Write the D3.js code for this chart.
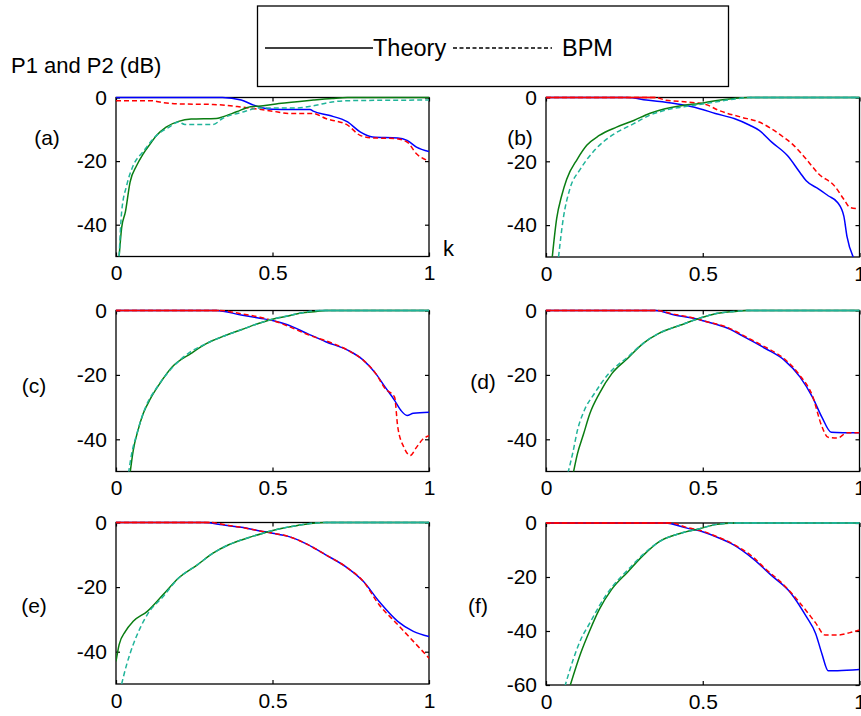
<!DOCTYPE html>
<html>
<head>
<meta charset="utf-8">
<title>P1 and P2 vs k</title>
<style>
  html, body { margin: 0; padding: 0; background: #fff; }
  svg { display: block; }
  text { font-family: "Liberation Sans", Arial, sans-serif; fill: #000; }
</style>
</head>
<body>
<svg width="861" height="716"></svg>
<script src="https://d3js.org/d3.v7.min.js"></script>
<script>
// tick labels
var xTicks = [0, 0.5, 1];
var yTicks50 = [0, -20, -40];
var yTicks60 = [0, -20, -40, -60];
var panelNames = ['(a)', '(b)', '(c)', '(d)', '(e)', '(f)'];

// series: [k, dB]   P1 theory (blue), P1 BPM (red), P2 theory (green), P2 BPM (teal)
var aP1Theory = [[0,0],[0.34,0],[0.40,-0.8],[0.44,-2.4],[0.50,-3.7],[0.56,-3.8],[0.62,-3.8],[0.63,-4.3],[0.68,-5.6],[0.74,-7.7],[0.78,-10.8],[0.82,-12.4],[0.90,-12.7],[0.93,-13.5],[0.96,-15.6],[1,-17]];
var aP1Bpm = [[0,-1],[0.11,-1],[0.15,-1.6],[0.2,-2],[0.31,-2.2],[0.40,-3],[0.50,-4.3],[0.55,-5],[0.63,-5],[0.67,-6.6],[0.74,-8.7],[0.78,-11.9],[0.82,-12.7],[0.89,-12.9],[0.93,-14],[0.96,-17.7],[1,-20]];
var aP2Theory = [[0.01,-50],[0.018,-41],[0.03,-36],[0.045,-26.6],[0.066,-21.4],[0.087,-17.7],[0.11,-14.5],[0.13,-11.9],[0.16,-9.3],[0.2,-7.5],[0.24,-6.8],[0.32,-6.6],[0.34,-6.1],[0.385,-4.5],[0.43,-2.9],[0.47,-2.6],[0.52,-1.9],[0.63,-0.8],[0.69,-0.3],[0.74,0],[1,0]];
var aP2Bpm = [[0.01,-50],[0.018,-36],[0.034,-27.7],[0.055,-21.4],[0.087,-17],[0.13,-11.9],[0.17,-9.3],[0.2,-7.7],[0.22,-8.5],[0.31,-8.5],[0.34,-6.6],[0.40,-4.7],[0.46,-3.3],[0.57,-3.3],[0.63,-2.6],[0.69,-1.4],[0.74,-1],[1,-0.8]];

var bP1Theory = [[0,0],[0.26,0],[0.32,-0.8],[0.41,-1.9],[0.49,-3.5],[0.54,-5],[0.6,-6.6],[0.65,-8.7],[0.68,-10.3],[0.72,-14],[0.77,-18.2],[0.81,-23.5],[0.83,-26.1],[0.87,-28.7],[0.9,-30.8],[0.93,-32.9],[0.95,-37.2],[0.96,-43.5],[0.98,-50]];
var bP1Bpm = [[0,0],[0.35,0],[0.38,-0.8],[0.45,-1.4],[0.51,-2.2],[0.55,-4],[0.62,-6.1],[0.68,-7.7],[0.75,-11.9],[0.79,-15],[0.83,-19.3],[0.87,-24],[0.92,-27.7],[0.95,-31.9],[0.97,-34.5],[0.99,-34.8]];
var bP2Theory = [[0.02,-50],[0.034,-38],[0.05,-30.8],[0.066,-25.6],[0.1,-19.3],[0.13,-15],[0.17,-11.9],[0.225,-9.3],[0.28,-7.2],[0.33,-5],[0.38,-3.5],[0.44,-2.4],[0.49,-1.9],[0.54,-1],[0.6,-0.3],[0.65,0],[1,0]];
var bP2Bpm = [[0.04,-50],[0.055,-38],[0.076,-28.7],[0.11,-22.4],[0.16,-16],[0.21,-11.9],[0.28,-8.2],[0.33,-5.6],[0.38,-4],[0.44,-2.9],[0.51,-1.9],[0.58,-0.8],[0.65,0],[1,0]];

var cP1Theory = [[0,0],[0.32,0],[0.4,-1.4],[0.46,-2.4],[0.5,-3.1],[0.55,-4.5],[0.61,-7.1],[0.67,-9.7],[0.74,-12.3],[0.79,-15.4],[0.83,-19.6],[0.86,-23.8],[0.89,-27.9],[0.91,-31],[0.93,-32.6],[0.95,-31.9],[1,-31.6]];
var cP1Bpm = [[0,0],[0.33,0],[0.4,-1],[0.46,-2.1],[0.5,-3.1],[0.63,-8.1],[0.67,-9.4],[0.74,-12.3],[0.79,-15.4],[0.83,-19.6],[0.86,-24.3],[0.89,-26.9],[0.9,-36],[0.92,-42.5],[0.94,-45],[0.96,-42.5],[0.98,-40],[1,-38.9]];
var cP2Theory = [[0.045,-50.5],[0.055,-43.5],[0.07,-37.3],[0.087,-32],[0.11,-27.4],[0.14,-22.7],[0.18,-17.5],[0.24,-13.3],[0.29,-10.2],[0.34,-8.1],[0.4,-6],[0.45,-4.2],[0.5,-2.7],[0.55,-1.7],[0.59,-0.8],[0.64,-0.3],[0.67,0],[1,0]];
var cP2Bpm = [[0.04,-50.5],[0.05,-44.5],[0.066,-38.5],[0.082,-33.3],[0.098,-29.2],[0.13,-24],[0.17,-18.8],[0.22,-14.1],[0.29,-10.2],[0.34,-8.1],[0.4,-6],[0.45,-4.2],[0.5,-2.7],[0.55,-1.6],[0.6,-0.6],[0.65,0],[1,0]];

var dP1Theory = [[0,0],[0.35,0],[0.41,-1.4],[0.47,-2.4],[0.51,-3.4],[0.58,-5.5],[0.64,-8.6],[0.7,-11.8],[0.76,-15.4],[0.81,-20.6],[0.85,-26.9],[0.88,-33.1],[0.91,-37.8],[1,-38]];
var dP1Bpm = [[0,0],[0.35,0],[0.41,-1.2],[0.47,-2.3],[0.51,-3.4],[0.58,-5.3],[0.64,-8.3],[0.7,-11.4],[0.76,-15],[0.81,-20.2],[0.85,-26.5],[0.88,-36],[0.9,-39.4],[0.93,-39.6],[0.96,-38],[1,-38]];
var dP2Theory = [[0.087,-50.5],[0.1,-44.6],[0.12,-38.3],[0.14,-32],[0.17,-25.8],[0.21,-19.6],[0.26,-14.9],[0.31,-10.2],[0.36,-7.1],[0.43,-4.5],[0.49,-2.4],[0.54,-1],[0.6,-0.3],[0.64,0],[1,0]];
var dP2Bpm = [[0.07,-50.5],[0.087,-43.5],[0.1,-37.3],[0.12,-31.5],[0.155,-25.7],[0.2,-19.6],[0.26,-14.5],[0.31,-10.2],[0.36,-7.1],[0.43,-4.5],[0.49,-2.4],[0.54,-1],[0.6,-0.3],[0.64,0],[1,0]];

var eP1Theory = [[0,0],[0.28,0],[0.34,-0.7],[0.4,-1.5],[0.46,-2.6],[0.5,-3.3],[0.55,-4.3],[0.61,-6.7],[0.67,-10],[0.74,-14.1],[0.79,-18.2],[0.84,-24.4],[0.9,-30.6],[0.95,-33.7],[1,-35.3]];
var eP1Bpm = [[0,0],[0.3,0],[0.36,-0.9],[0.4,-1.5],[0.46,-2.6],[0.5,-3.3],[0.55,-4.3],[0.61,-6.7],[0.67,-10],[0.74,-14.1],[0.79,-18.2],[0.84,-25.4],[0.9,-31.6],[0.95,-36.8],[0.98,-39.9],[1,-42]];
var eP2Theory = [[0,-43],[0.01,-37.8],[0.03,-33.7],[0.055,-30.6],[0.1,-27.5],[0.15,-22.4],[0.2,-17.2],[0.26,-13.1],[0.31,-9.5],[0.36,-6.9],[0.42,-4.8],[0.47,-3.3],[0.52,-2],[0.58,-0.9],[0.63,-0.2],[0.67,0],[1,0]];
var eP2Bpm = [[0.018,-50],[0.034,-44],[0.055,-37.8],[0.077,-32.7],[0.1,-28.5],[0.15,-23],[0.2,-17.2],[0.26,-13.1],[0.31,-9.5],[0.36,-6.9],[0.42,-4.8],[0.47,-3.3],[0.52,-2],[0.58,-0.9],[0.63,-0.2],[0.67,0],[1,0]];

var fP1Theory = [[0,0],[0.38,0],[0.45,-1.9],[0.49,-2.9],[0.54,-5],[0.6,-8.2],[0.66,-13.2],[0.72,-19.5],[0.78,-25.8],[0.83,-34.6],[0.86,-40.9],[0.88,-48.4],[0.9,-54.7],[0.93,-54.7],[1,-54.3]];
var fP1Bpm = [[0,0],[0.4,0],[0.45,-1.7],[0.49,-2.7],[0.54,-4.8],[0.6,-8],[0.66,-12.6],[0.7,-17],[0.75,-22],[0.81,-29.6],[0.86,-37],[0.89,-41.5],[0.93,-41.5],[0.97,-40.6],[1,-39.6]];
var fP2Theory = [[0.076,-60.6],[0.11,-48.4],[0.14,-39.7],[0.17,-32],[0.21,-24.5],[0.26,-18.2],[0.31,-12],[0.36,-7],[0.43,-3.8],[0.49,-2.1],[0.54,-0.6],[0.6,0],[1,0]];
var fP2Bpm = [[0.06,-60.6],[0.087,-50.5],[0.11,-43.4],[0.14,-37],[0.17,-30.7],[0.21,-23.8],[0.26,-17.5],[0.31,-11.6],[0.36,-7],[0.43,-3.8],[0.49,-2.1],[0.54,-0.6],[0.6,0],[1,0]];

var colors = { p1Theory: '#0000ff', p1Bpm: '#ff0000', p2Theory: '#0a7d12', p2Bpm: '#20b49a' };

// layout of the six axes
var panels = [
  { name: panelNames[0], left: 116, top: 97.5, right: 429, bottom: 256.5, ymin: -50, yticks: yTicks50, lx: 47, ly: 138, series: [aP1Theory, aP1Bpm, aP2Theory, aP2Bpm] },
  { name: panelNames[1], left: 546, top: 97.5, right: 859.5, bottom: 257, ymin: -50, yticks: yTicks50, lx: 520, ly: 138, series: [bP1Theory, bP1Bpm, bP2Theory, bP2Bpm] },
  { name: panelNames[2], left: 116, top: 310.5, right: 429, bottom: 471.5, ymin: -50, yticks: yTicks50, lx: 34, ly: 386, series: [cP1Theory, cP1Bpm, cP2Theory, cP2Bpm] },
  { name: panelNames[3], left: 546, top: 310.5, right: 859.5, bottom: 471.5, ymin: -50, yticks: yTicks50, lx: 483, ly: 382, series: [dP1Theory, dP1Bpm, dP2Theory, dP2Bpm] },
  { name: panelNames[4], left: 116, top: 522.5, right: 429, bottom: 684, ymin: -50, yticks: yTicks50, lx: 34, ly: 606, series: [eP1Theory, eP1Bpm, eP2Theory, eP2Bpm] },
  { name: panelNames[5], left: 546, top: 523, right: 859.5, bottom: 685, ymin: -60, yticks: yTicks60, lx: 478, ly: 606, series: [fP1Theory, fP1Bpm, fP2Theory, fP2Bpm] }
];

var svg = d3.select('svg');
var styles = [
  { color: colors.p1Theory, dash: null },
  { color: colors.p1Bpm, dash: '5,3' },
  { color: colors.p2Theory, dash: null },
  { color: colors.p2Bpm, dash: '5,3' }
];

panels.forEach(function(p, pi) {
  var w = p.right - p.left, h = p.bottom - p.top;
  var x = d3.scaleLinear().domain([0, 1]).range([0, w]);
  var y = d3.scaleLinear().domain([p.ymin, 0]).range([h, 0]);
  var g = svg.append('g').attr('transform', 'translate(' + p.left + ',' + p.top + ')');

  g.append('clipPath').attr('id', 'clip' + pi)
    .append('rect').attr('x', 0).attr('y', -2).attr('width', w).attr('height', h + 2);

  // box
  g.append('rect').attr('width', w).attr('height', h)
    .attr('fill', 'none').attr('stroke', '#000').attr('stroke-width', 1.3);

  var axes = [
    d3.axisLeft(y).tickValues(p.yticks).tickFormat(function(d) { return String(d); }),
    d3.axisBottom(x).tickValues(xTicks).tickFormat(function(d) { return String(d); }),
    d3.axisRight(y).tickValues(p.yticks).tickFormat(''),
    d3.axisTop(x).tickValues(xTicks).tickFormat('')
  ];
  var trans = ['translate(0,0)', 'translate(0,' + h + ')', 'translate(' + w + ',0)', 'translate(0,0)'];
  axes.forEach(function(ax, ai) {
    ax.tickSizeInner(-4).tickSizeOuter(0).tickPadding(9);
    var a = g.append('g').attr('transform', trans[ai]).call(ax);
    a.select('.domain').remove();
    a.selectAll('line').attr('stroke', '#000').attr('stroke-width', 1.2);
    a.selectAll('text').attr('font-size', 21).attr('font-family', '"Liberation Sans", Arial, sans-serif').attr('fill', '#000');
  });

  var line = d3.line().x(function(d) { return x(d[0]); }).y(function(d) { return y(d[1]); }).curve(d3.curveMonotoneX);
  var flat = d3.line().defined(function(d) { return d[1] === 0; })
    .x(function(d) { return x(d[0]); }).y(function(d) { return y(d[1]); });

  var lg = g.append('g').attr('clip-path', 'url(#clip' + pi + ')');
  p.series.forEach(function(s, si) {
    var st = styles[si];
    lg.append('path').datum(s).attr('d', line)
      .attr('fill', 'none').attr('stroke', st.color).attr('stroke-width', 1.5)
      .attr('stroke-dasharray', st.dash);
    if (st.dash) {
      // saturated 0 dB stretch of the BPM result draws as a continuous trace
      lg.append('path').datum(s).attr('d', flat)
        .attr('fill', 'none').attr('stroke', st.color).attr('stroke-width', 1.5);
    }
  });

  svg.append('text').attr('x', p.lx).attr('y', p.ly).attr('text-anchor', 'middle')
    .attr('dy', '0.35em').attr('font-size', 21).text(p.name);
});

// axis titles
svg.append('text').attr('x', 11).attr('y', 73).attr('font-size', 22).text('P1 and P2 (dB)');
svg.append('text').attr('x', 443).attr('y', 256).attr('font-size', 22).text('k');

// legend
var leg = svg.append('g');
leg.append('rect').attr('x', 257.5).attr('y', 6).attr('width', 471).attr('height', 80.5)
  .attr('fill', '#fff').attr('stroke', '#000').attr('stroke-width', 1.3);
leg.append('line').attr('x1', 265).attr('x2', 373).attr('y1', 48).attr('y2', 48)
  .attr('stroke', '#000').attr('stroke-width', 1.3);
leg.append('text').attr('x', 373).attr('y', 56).attr('font-size', 23.5).text('Theory');
leg.append('line').attr('x1', 453).attr('x2', 552).attr('y1', 48).attr('y2', 48)
  .attr('stroke', '#000').attr('stroke-width', 1.5).attr('stroke-dasharray', '4,2.5');
leg.append('text').attr('x', 562).attr('y', 56).attr('font-size', 23.5).text('BPM');
</script>
</body>
</html>
